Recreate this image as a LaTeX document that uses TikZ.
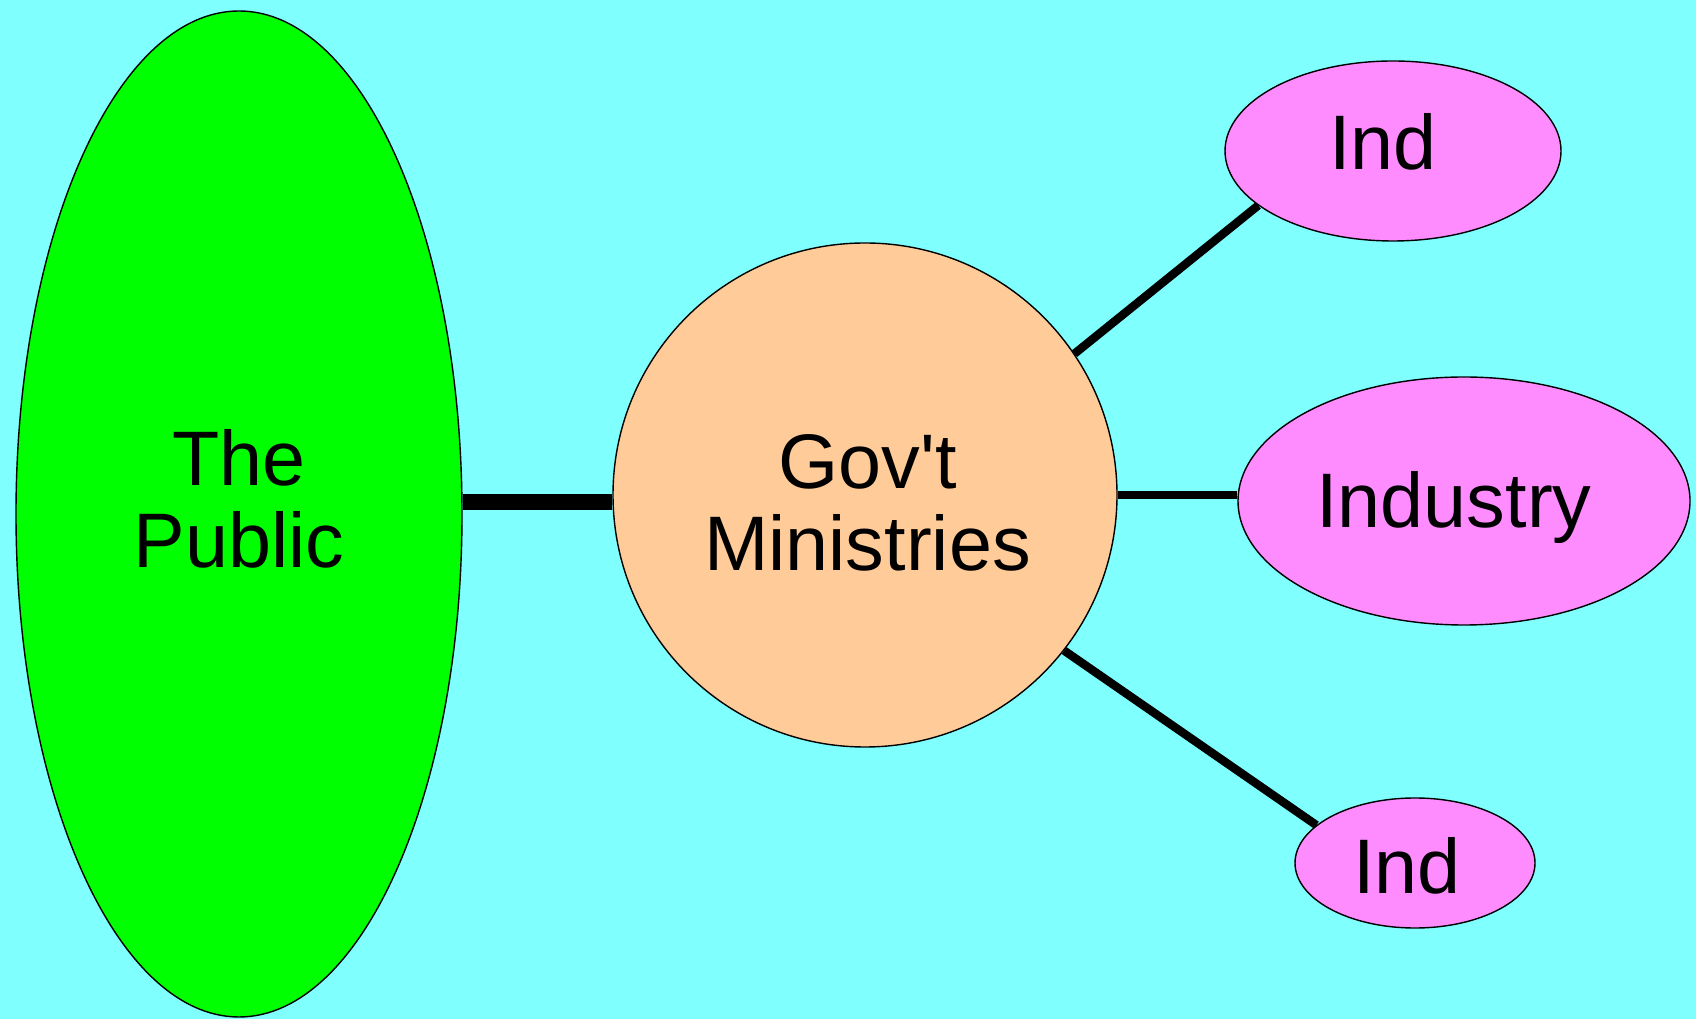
\documentclass[tikz,border=0pt]{standalone}
\usepackage{fontspec}
\setmainfont{Liberation Sans}
\usetikzlibrary{shapes.geometric}
\definecolor{skyback}{HTML}{80FFFF}
\definecolor{publicgreen}{HTML}{00FF00}
\definecolor{govpeach}{HTML}{FFCC99}
\definecolor{indpink}{HTML}{FF8CFF}
\tikzset{
    blob/.style={ellipse, draw=black, line width=0.8, inner sep=0},
    word/.style={align=center, inner sep=0, font=\fontsize{44}{47}\selectfont},
    link/.style={line width=4.8, black}
}
\begin{document}
\begin{tikzpicture}
        \fill[skyback] (0,0) rectangle (33.92,20.38);
        \useasboundingbox (0,0) rectangle (33.92,20.38);
        \node[blob, fill=publicgreen, minimum width=8.92cm, minimum height=20.12cm,
            label={[word, yshift=0.30cm]center:The\\Public}] (public) at (4.78, 10.10) {};
        \node[blob, circle, fill=govpeach, minimum size=10.08cm,
            label={[word, xshift=0.05cm, yshift=-0.16cm]center:Gov\textquotesingle t\\Ministries}] (gov) at (17.30, 10.48) {};
        \node[blob, fill=indpink, minimum width=6.72cm, minimum height=3.6cm,
            label={[word, xshift=-0.2cm, yshift=0.18cm]center:Ind}] (indtop) at (27.86, 17.36) {};
        \node[blob, fill=indpink, minimum width=9.04cm, minimum height=4.96cm,
            label={[word, xshift=-0.2cm, yshift=-0.13cm]center:Industry}] (industry) at (29.28, 10.36) {};
        \node[blob, fill=indpink, minimum width=4.8cm, minimum height=2.6cm,
            label={[word, xshift=-0.16cm, yshift=-0.05cm]center:Ind}] (indbot) at (28.30, 3.12) {};
        \draw[line width=9.6] ([yshift=-0.14cm]public.east |- gov.west) -- ([yshift=-0.14cm]gov.west);
        \draw[link] (gov.34) -- (indtop.202);
        \draw[link] (gov.east) -- (gov.east -| industry.west);
        \draw[link] (gov.-38) -- (indbot.159);
    \end{tikzpicture}
\end{document}
